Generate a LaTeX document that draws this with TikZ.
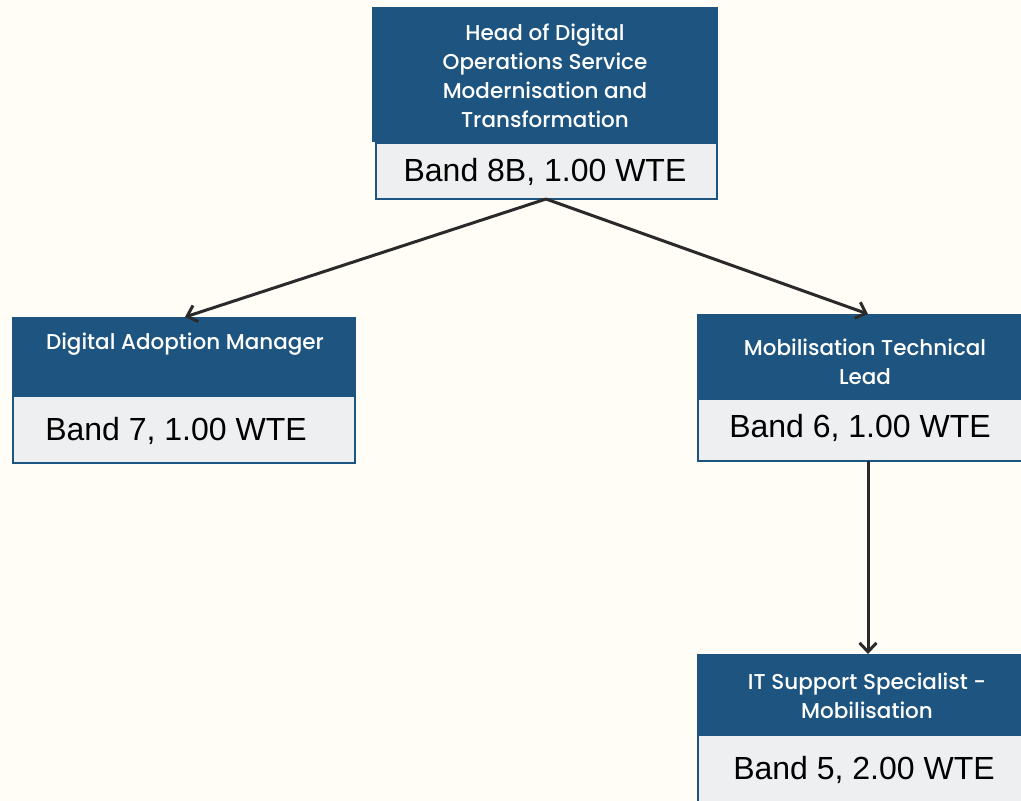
\documentclass[tikz,border=0pt]{standalone}
\usepackage{fontspec}
\setmainfont{Liberation Sans}
\newfontfamily\headfont{Poppins Medium}
\usetikzlibrary{arrows.meta}
\definecolor{bg}{HTML}{FFFDF6}
\definecolor{navy}{HTML}{1E5480}
\definecolor{pale}{HTML}{EEEFF1}
\definecolor{ink}{HTML}{2A2A2A}
\tikzset{
  head/.style={fill=navy, draw=none, inner sep=0pt, outer sep=0pt},
  bandbox/.style={fill=pale, draw=navy, line width=2pt, inner sep=0pt, outer sep=0pt},
  headtxt/.style={text=white, font=\headfont\fontsize{21.5}{29}\selectfont, align=center, inner sep=0pt},
  bandtxt/.style={text=black, font=\fontsize{32}{36}\selectfont, inner sep=0pt},
  link/.style={draw=ink, line width=3pt, -{Straight Barb[length=9pt,width=17pt,line width=3pt]}}
}
\begin{document}
\begin{tikzpicture}[x=1pt,y=-1pt]
\useasboundingbox[fill=bg] (0,0) rectangle (1021,801);
\clip (0,0) rectangle (1021,801);
% top
\node[head, minimum width=346pt, minimum height=135pt] (h0) at (545,74.5) {};
\node[bandbox, minimum width=341pt, minimum height=56pt] (b0) at (546,170.5) {};
\node[headtxt] (t0) at (545,76) {Head of Digital\\Operations Service\\Modernisation and\\Transformation};
\node[bandtxt] (n0) at (545,172) {Band 8B, 1.00 WTE};
% left
\node[head, minimum width=344pt, minimum height=78pt] (h1) at (184,356) {};
\node[bandbox, minimum width=342pt, minimum height=67pt] (b1) at (184,429) {};
\node[headtxt] (t1) at (185,344) {Digital Adoption Manager};
\node[bandtxt] (n1) at (176,431) {Band 7, 1.00 WTE};
% right 1
\node[head, minimum width=330pt, minimum height=85pt] (h2) at (862,356.5) {};
\node[bandbox, minimum width=330pt, minimum height=62pt] (b2) at (863,430) {};
\node[headtxt] (t2) at (865,361.5) {Mobilisation Technical\\Lead};
\node[bandtxt] (n2) at (860,428) {Band 6, 1.00 WTE};
% right 2
\node[head, minimum width=330pt, minimum height=81pt] (h3) at (862,694.5) {};
\node[bandbox, minimum width=330pt, minimum height=70pt] (b3) at (863,770) {};
\node[headtxt] (t3) at (867,696) {IT Support Specialist -\\Mobilisation};
\node[bandtxt] (n3) at (864,770) {Band 5, 2.00 WTE};
% connectors
\coordinate (s0) at (546,199);
\draw[link] (s0) -- (h1.north -| 185,0);
\draw[link] (s0) -- (h2.north -| 868,0);
\draw[link] (b2.south -| 868,0) -- (h3.north -| 868,0);
\end{tikzpicture}
\end{document}
